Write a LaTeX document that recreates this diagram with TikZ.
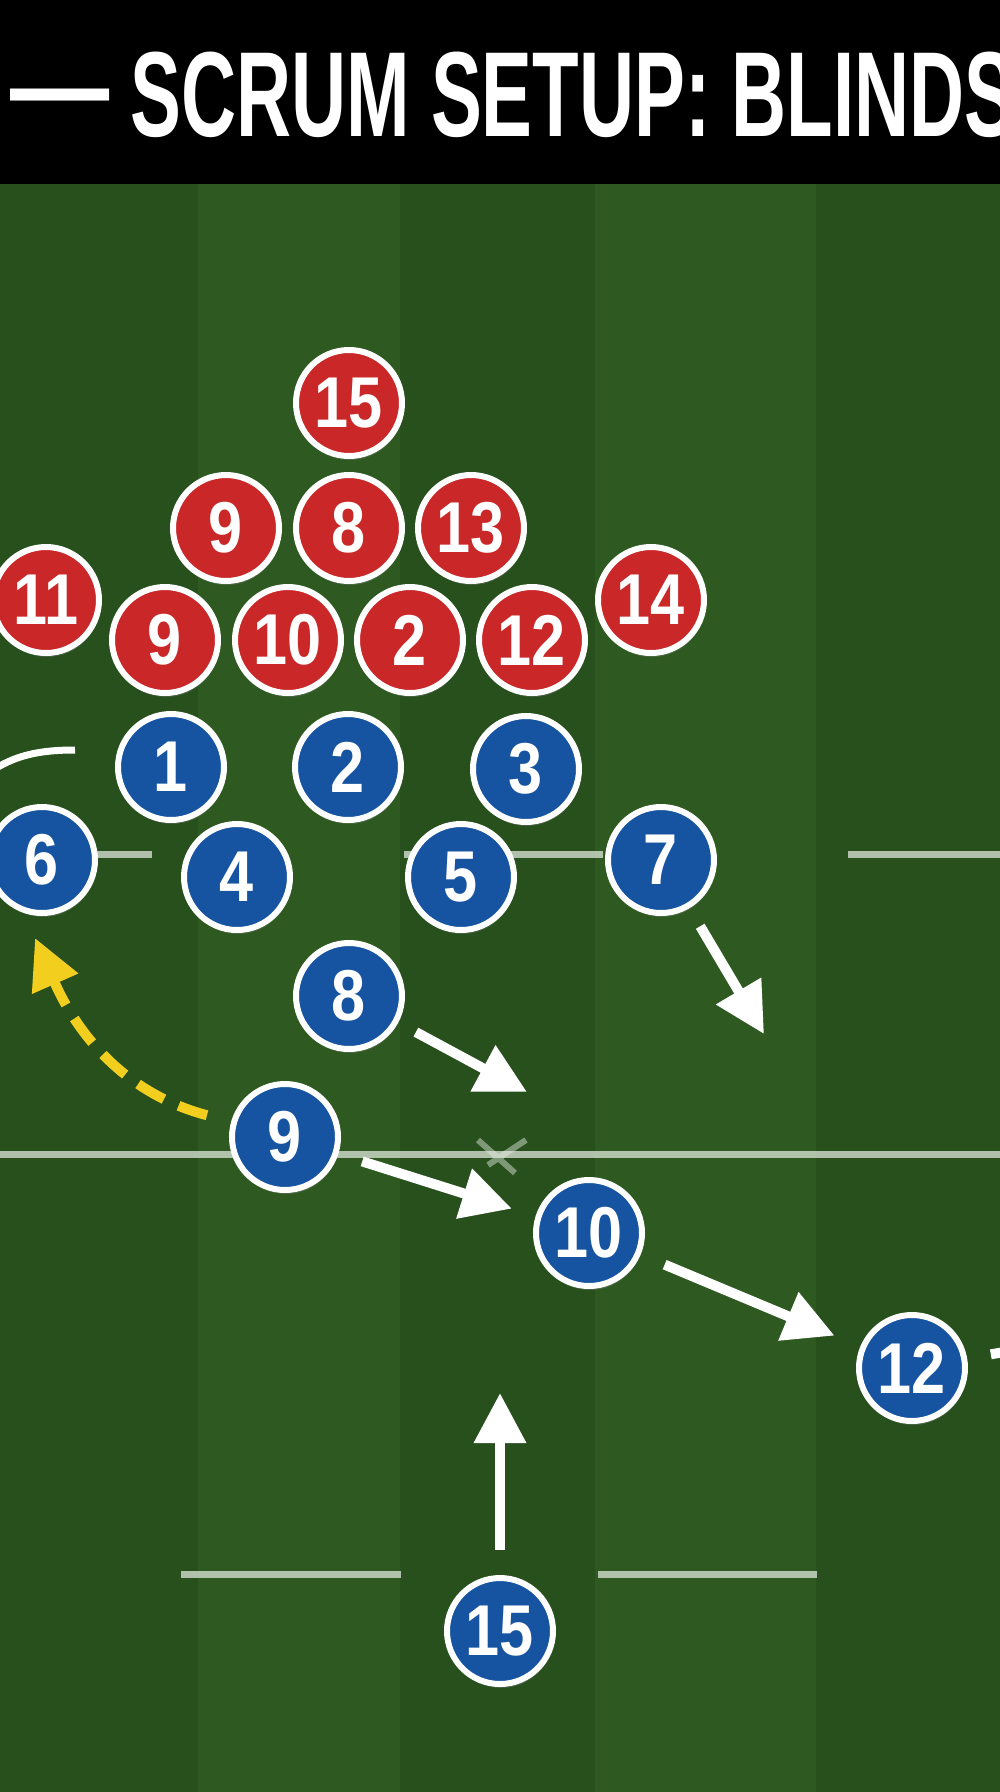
\documentclass[tikz,border=0pt]{standalone}
\usepackage{fontspec}
\setmainfont{Liberation Sans}
\usetikzlibrary{arrows.meta,shadows}
\definecolor{turf}{RGB}{39,80,29}
\definecolor{turflight}{RGB}{46,90,33}
\definecolor{redkit}{RGB}{202,40,40}
\definecolor{bluekit}{RGB}{22,84,162}
\definecolor{chalk}{RGB}{235,240,230}
\definecolor{kick}{RGB}{242,206,30}
\tikzstyle{player}=[circle,draw=white,line width=6pt,minimum size=106pt,inner sep=0pt,text=white,
  font=\fontsize{72}{72}\selectfont\bfseries,drop shadow={shadow xshift=1pt,shadow yshift=-4pt,opacity=.35}]
\tikzstyle{defence}=[player,fill=redkit]
\tikzstyle{attack}=[player,fill=bluekit]
\tikzstyle{run}=[white,line width=10pt,-{Triangle[length=50pt,width=50pt]}]
\tikzstyle{pass}=[kick,line width=10pt,dash pattern=on 30pt off 16pt,-{Triangle[length=50pt,width=48pt]}]
\tikzstyle{chalkline}=[chalk,opacity=.7,line width=7pt]
\newcommand{\shirt}[1]{\scalebox{.85}[1]{#1}}

\begin{document}
\begin{tikzpicture}[x=1pt,y=-1pt]
	\useasboundingbox (0,0) rectangle (1000,1792);
	% pitch
	\fill[turf] (0,0) rectangle (1000,1792);
	\fill[turflight] (198,184) rectangle (400,1792);
	\fill[turflight] (595,184) rectangle (816,1792);
	\fill[black] (0,0) rectangle (1000,184);
	\node[anchor=base west,inner sep=0pt,text=white,font=\fontsize{121}{121}\selectfont\bfseries] (title) at (10,136)
		{\scalebox{.63}[1]{\raisebox{9pt}{\scalebox{1.3}[1]{—}} SCRUM SETUP: BLINDS}};
	\draw[chalkline] (0,854) -- (152,854) (404,854) -- (603,854) (848,854) -- (1000,854);
	\draw[chalkline] (0,1154) -- (1000,1154);
	\draw[chalkline] (181,1574) -- (401,1574) (598,1574) -- (817,1574);
	\draw[chalkline,opacity=.45,line width=6pt] (478,1140) -- (515,1173) (526,1140) -- (488,1165);
	\draw[white,line width=7pt] (-10,772) .. controls (15,755) and (40,750) .. (75,750);
	% defending side
	\node[defence] (r15) at (349,403) {\shirt{15}};
	\node[defence] (r9a) at (226,528) {\shirt{9}};
	\node[defence] (r8) at (349,528) {\shirt{8}};
	\node[defence] (r13) at (471,528) {\shirt{13}};
	\node[defence] (r11) at (46,600) {\shirt{11}};
	\node[defence] (r14) at (651,600) {\shirt{14}};
	\node[defence] (r9b) at (165,640) {\shirt{9}};
	\node[defence] (r10) at (288,640) {\shirt{10}};
	\node[defence] (r2) at (410,640) {\shirt{2}};
	\node[defence] (r12) at (532,640) {\shirt{12}};
	% attacking side
	\node[attack] (b1) at (171,767) {\shirt{1}};
	\node[attack] (b2) at (348,767) {\shirt{2}};
	\node[attack] (b3) at (526,769) {\shirt{3}};
	\node[attack] (b6) at (42,860) {\shirt{6}};
	\node[attack] (b4) at (237,877) {\shirt{4}};
	\node[attack] (b5) at (461,877) {\shirt{5}};
	\node[attack] (b7) at (661,860) {\shirt{7}};
	\node[attack] (b8) at (349,996) {\shirt{8}};
	\node[attack] (b9) at (285,1137) {\shirt{9}};
	\node[attack] (b10) at (589,1233) {\shirt{10}};
	\node[attack] (b12) at (912,1368) {\shirt{12}};
	\node[attack] (b15) at (500,1631) {\shirt{15}};
	% runs
	\coordinate (c7) at (764,1034);
	\coordinate (c8) at (527,1092);
	\coordinate (c15) at (500,1393);
	\coordinate (c12) at (1010,1351);
	\coordinate (c6) at (35,938);
	\draw[run,shorten <=21pt] (b7) -- (c7);
	\draw[run,shorten <=20pt] (b8) -- (c8);
	\draw[run,shorten <=25pt] (b15) -- (c15);
	\path
		(b9)	edge[run,shorten <=25pt,shorten >=25pt]	(b10)
		(b10)	edge[run,shorten <=26pt,shorten >=28pt]	(b12);
	\draw[white,line width=10pt,shorten <=24pt] (b12) -- (c12);
	\draw[pass,shorten <=25pt] (b9.164) .. controls (130,1095) and (80,1040) .. (c6);
\end{tikzpicture}
\end{document}
